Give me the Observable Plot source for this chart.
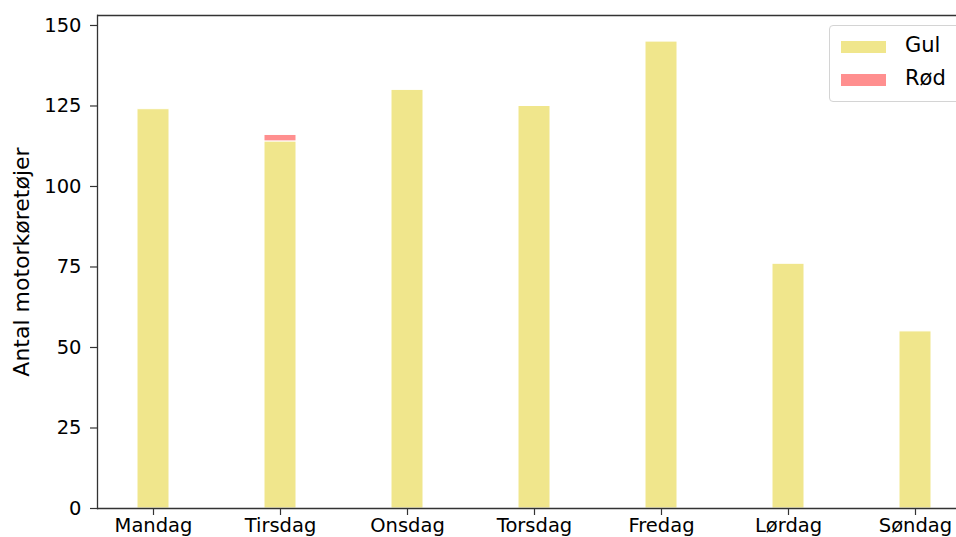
<!DOCTYPE html>
<html>
<head>
<meta charset="utf-8">
<script src="https://cdn.jsdelivr.net/npm/d3@7"></script>
<script src="https://cdn.jsdelivr.net/npm/@observablehq/plot@0.6"></script>
<style>
  html, body { margin: 0; padding: 0; background: white; overflow: hidden; width: 956px; height: 537px; }
  #wrap { position: relative; width: 956px; height: 537px; overflow: hidden; font-family: "DejaVu Sans", sans-serif; }
  #legend { position: absolute; left: 829px; top: 25px; width: 160px; height: 75px; border: 1px solid #d4d4d4; border-radius: 4px; background: rgba(255,255,255,0.8); }
  .sw { position: absolute; left: 11px; width: 45px; height: 12px; }
  .lt { position: absolute; left: 75px; font-size: 21px; line-height: 20px; color: #000; white-space: nowrap; }
</style>
</head>
<body>
<div id="wrap"></div>
<script>
const days = ["Mandag", "Tirsdag", "Onsdag", "Torsdag", "Fredag", "Lørdag", "Søndag"];
const gul = [124, 114, 130, 125, 145, 76, 55];
const rod = [0, 2, 0, 0, 0, 0, 0];
const seriesNames = ["Gul", "Rød"];
const seriesColors = ["#f0e68c", "#ff8f8f"];
const yTicks = [0, 25, 50, 75, 100, 125, 150];
const yMax = 153.1;
const yLabel = "Antal motorkøretøjer";

const data = days.flatMap((d, i) => [
  {day: d, serie: "Gul", v: gul[i]},
  {day: d, serie: "Rød", v: rod[i]}
]);

const chart = Plot.plot({
  width: 956,
  height: 537,
  marginLeft: 97,
  marginRight: -15,
  marginTop: 15,
  marginBottom: 29,
  style: {fontFamily: "DejaVu Sans", fontSize: "19.5px", color: "#000", background: "white", overflow: "hidden"},
  x: {type: "band", domain: days, paddingInner: 0.75, paddingOuter: 0.3125},
  y: {domain: [0, yMax]},
  color: {domain: seriesNames, range: seriesColors},
  marks: [
    Plot.barY(data, Plot.stackY({x: "day", y: "v", fill: "serie", order: seriesNames, stroke: "white", strokeWidth: 1})),
    Plot.ruleY([0, yMax], {stroke: "#333", strokeWidth: 1.3}),
    Plot.frame({anchor: "left", stroke: "#333", strokeWidth: 1.3}),
    Plot.axisX({tickSize: 7, tickPadding: 3, stroke: "#333", strokeWidth: 1.2, fill: "#000", label: null}),
    Plot.axisY({ticks: yTicks, tickSize: 7, tickPadding: 9, stroke: "#333", strokeWidth: 1.2, fill: "#000", label: null}),
    Plot.text([yLabel], {frameAnchor: "left", textAnchor: "middle", rotate: -90, dx: -76, fontSize: 22, fill: "#000"})
  ]
});
const wrap = document.getElementById("wrap");
wrap.appendChild(chart);

const legend = document.createElement("div");
legend.id = "legend";
const tops = [15, 48];
const textTops = [9, 42];
seriesNames.forEach((n, k) => {
  const sw = document.createElement("div");
  sw.className = "sw";
  sw.style.top = tops[k] + "px";
  sw.style.background = seriesColors[k];
  legend.appendChild(sw);
  const t = document.createElement("div");
  t.className = "lt";
  t.style.top = textTops[k] + "px";
  t.textContent = n;
  legend.appendChild(t);
});
wrap.appendChild(legend);
</script>
</body>
</html>
